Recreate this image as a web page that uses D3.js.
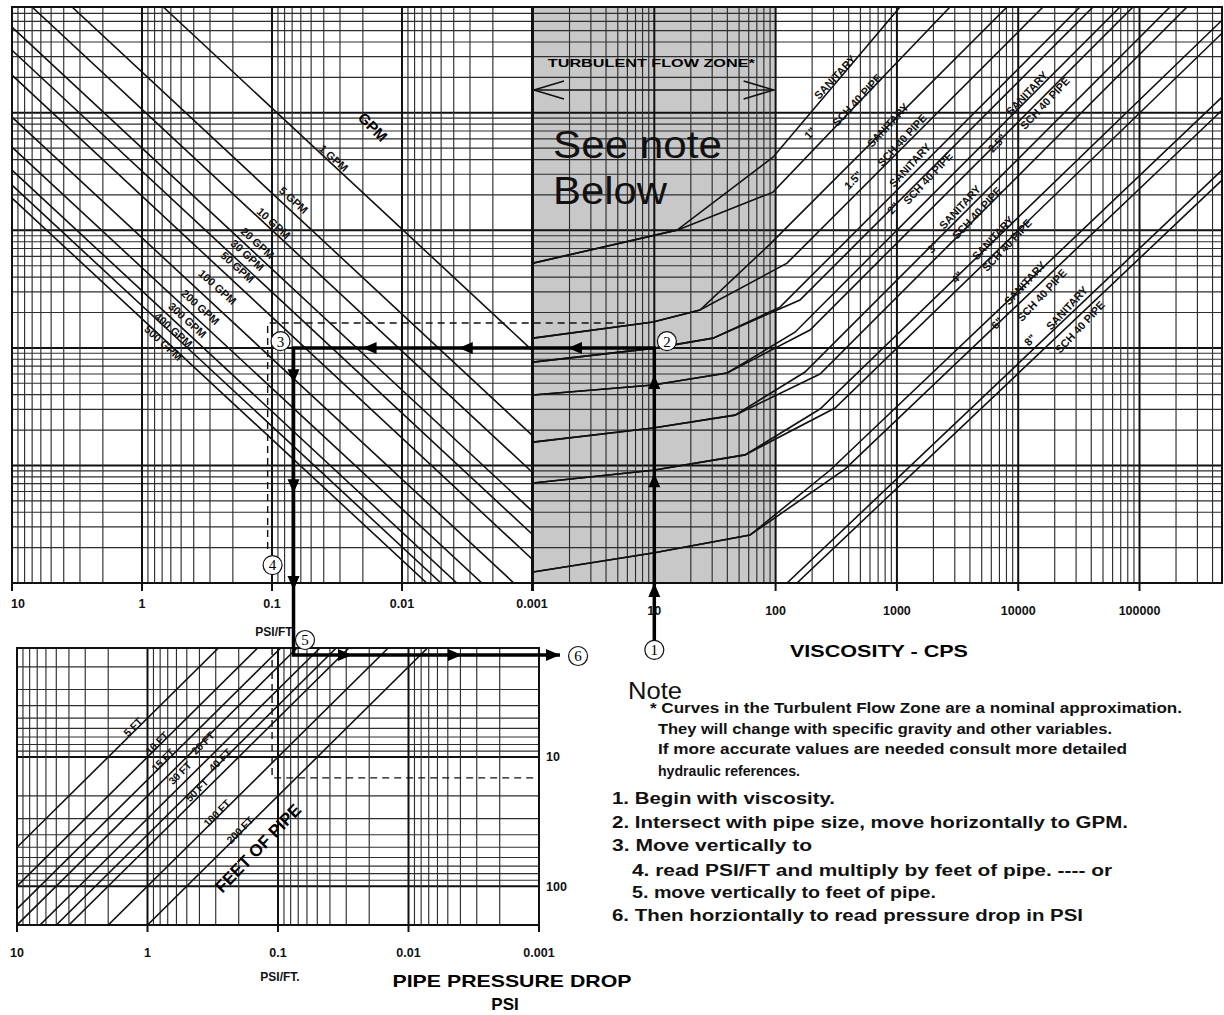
<!DOCTYPE html>
<html>
<head>
<meta charset="utf-8">
<script src="https://cdnjs.cloudflare.com/ajax/libs/d3/7.8.5/d3.min.js"></script>
<style>
  body { margin: 0; background: #fff; }
  svg { display: block; font-family: "Liberation Sans", Arial, sans-serif; }
  .grid-minor { stroke: #2e2e2e; stroke-width: 1.15; }
  .grid-major { stroke: #111; stroke-width: 2; }
  .frame { fill: none; stroke: #111; stroke-width: 2; }
  .curve { fill: none; stroke: #111; stroke-width: 1.6; }
  .tick-label { font-weight: bold; font-size: 12.5px; fill: #111; }
  .line-label { font-weight: bold; font-size: 11px; fill: #111; }
  .flow-path { fill: none; stroke: #000; stroke-width: 3.5; }
  .dashed { fill: none; stroke: #111; stroke-width: 1.4; stroke-dasharray: 7 5; }
  .note { font-weight: bold; fill: #111; }
</style>
</head>
<body>
<div id="chart"></div>
<script>
// ---- values ----
const psiTicks = [10, 1, 0.1, 0.01, 0.001];
const psiTickLabels = ["10", "1", "0.1", "0.01", "0.001"];
const cpsTicks = [10, 100, 1000, 10000, 100000];
const cpsTickLabels = ["10", "100", "1000", "10000", "100000"];
const psiDropTicks = [10, 100];
const psiDropTickLabels = ["10", "100"];

// GPM lines: [PSI/FT, flow index] at each end
const gpmLabels = ["1 GPM", "5 GPM", "10 GPM", "20 GPM", "30 GPM", "50 GPM", "100 GPM", "200 GPM", "300 GPM", "400 GPM", "500 GPM"];
const gpmStart = [[0.686, 79400], [3.45, 79400], [7.01, 79400], [10, 53460], [10, 34050], [10, 20890], [10, 9180], [10, 5100], [10, 3250], [10, 2423], [10, 1879]];
const gpmEnd = [[0.001, 95.8], [0.001, 18.1], [0.001, 8.79], [0.001, 4.1], [0.001, 2.61], [0.001, 1.6], [0.00138, 1], [0.00243, 1], [0.00379, 1], [0.00502, 1], [0.00645, 1]];
const gpmLabelAt = [[0.0336, 4110], [0.0683, 1806], [0.0973, 1151], [0.1294, 778], [0.1545, 615], [0.1845, 486], [0.263, 329], [0.356, 222], [0.448, 172], [0.574, 142], [0.686, 110]];

// pipe curves: [viscosity cps, flow index]
const pipeSizes = ['1"', '1.5"', '2"', '2.5"', '3"', '4"', '6"', '8"'];
const sanitaryCurves = [
  [[1, 526], [15.4, 1004], [95.2, 4190], [1061, 79400]],
  [[1, 121], [9.76, 166], [23.8, 210], [89.9, 763], [8085, 79400]],
  [[1, 75.7], [10.1, 99.6], [30.5, 121], [108.7, 222], [32320, 79400]],
  [[1, 39.7], [9.76, 48.3], [39.8, 61.1], [144.5, 136], [69070, 79400]],
  [[1, 15.8], [9.76, 20.8], [46.3, 26.8], [174.7, 62.3], [178400, 79400]],
  [[1, 7.09], [9.76, 9.1], [55.9, 12.3], [232.3, 30.2], [478600, 61240]],
  [[1, 1.24], [9.76, 1.8], [61.5, 2.56], [280.8, 9.1], [478600, 13590]],
  [[124.2, 1], [478600, 3250]]
];
const sch40Curves = [
  [[1, 526], [15.4, 1004], [95.2, 2113], [2740, 79400]],
  [[1, 121], [9.76, 166], [23.8, 210], [124.2, 526], [16015, 79400]],
  [[1, 75.7], [10.1, 99.6], [30.5, 121], [158.8, 255], [41370, 79400]],
  [[1, 39.7], [9.76, 48.3], [39.8, 61.1], [192.1, 142], [88420, 79400]],
  [[1, 15.8], [9.76, 20.8], [46.3, 26.8], [232.3, 59.9], [246400, 79400]],
  [[1, 7.09], [9.76, 9.1], [55.9, 12.3], [309, 30.8], [478600, 47500]],
  [[1, 1.24], [9.76, 1.8], [61.5, 2.56], [373.5, 9.3], [478600, 10510]],
  [[150, 1], [478600, 2670]]
];
const sizeLabelAt = [[192, 6710], [435, 2670], [929, 1545], [6690, 5510], [1984, 720], [3130, 400], [6686, 162.5], [12510, 116.5]];
const sanitaryLabelAt = [[309, 20080], [845, 7850], [1282, 3584], [11820, 14680], [3313, 1575], [6198, 859], [11380, 355.6], [25260, 218]];
const sch40LabelAt = [[469, 12800], [1102, 5848], [1805, 2780], [16630, 12070], [4574, 1401], [8085, 748], [15710, 281], [32320, 150.3]];

// feet of pipe lines: [PSI/FT, PSI] at each end
const feetLabels = ["5 FT", "10 FT", "15 FT", "20 FT", "30 FT", "40 FT", "50 FT", "100 FT", "200 FT"];
const feetStart = [[10, 50], [10, 100], [10, 150], [10, 200], [6.67, 200], [5, 200], [4, 200], [2, 200], [1, 200]];
const feetEnd = [[0.286, 1.43], [0.143, 1.43], [0.0953, 1.43], [0.0715, 1.43], [0.0477, 1.43], [0.0358, 1.43], [0.0286, 1.43], [0.0143, 1.43], [0.00715, 1.43]];
const feetLabelAt = [[1.291, 5.85], [0.846, 7.79], [0.761, 10.55], [0.376, 7.79], [0.5636, 13.3], [0.278, 10.55], [0.4174, 18.03], [0.2932, 27.2], [0.1954, 36.8]];

// worked example
const exampleCps = 10;
const exampleFlow = 100;
const examplePsiFt = 0.0683;
const examplePsi = 1.62;
const exampleEndPsiFt = 0.00069;
const readingFlow = 163;
const readingPsiFt = 0.108;
const readingLowPsiFt = 0.111;
const readingPsi = 14.5;

const noteLines = [
  "* Curves in the Turbulent Flow Zone are a nominal approximation.",
  "They will change with specific gravity and other variables.",
  "If more accurate values are needed consult more detailed",
  "hydraulic references."
];
const stepLines = [
  "1. Begin with viscosity.",
  "2. Intersect with pipe size, move horizontally to GPM.",
  "3. Move vertically to",
  "4. read PSI/FT and multiply by feet of pipe. ---- or",
  "5. move vertically to feet of pipe.",
  "6. Then horziontally to read pressure drop in PSI"
];

// ---- drawing ----
const svg = d3.select("#chart").append("svg")
  .attr("width", 1224)
  .attr("height", 1015);

const xPsi = d3.scaleLog().domain([10, 0.001]).range([12, 532]);
const xCps = d3.scaleLog().domain([1, 478600]).range([533, 1222]);
const yFlow = d3.scaleLog().domain([1, 79400]).range([583, 7]);
const xPsiLow = d3.scaleLog().domain([10, 0.001]).range([17, 539]);
const yPsiLow = d3.scaleLog().domain([1.43, 200]).range([648, 925]);

function logSteps(lo, hi) {
  const out = [];
  for (let e = Math.floor(Math.log10(lo)); e <= Math.ceil(Math.log10(hi)); e++) {
    for (let m = 1; m <= 9; m++) {
      const v = m * Math.pow(10, e);
      if (v >= lo * 0.999 && v <= hi * 1.001) out.push({ v: v, major: m === 1 });
    }
  }
  return out;
}

const defs = svg.append("defs");
defs.append("clipPath").attr("id", "clipLeft")
  .append("rect").attr("x", 12).attr("y", 7).attr("width", 520).attr("height", 576);
defs.append("clipPath").attr("id", "clipRight")
  .append("rect").attr("x", 533).attr("y", 7).attr("width", 689).attr("height", 576);
defs.append("clipPath").attr("id", "clipLow")
  .append("rect").attr("x", 17).attr("y", 648).attr("width", 522).attr("height", 277);

// turbulent zone shading
svg.append("rect")
  .attr("x", xCps(1))
  .attr("y", 7)
  .attr("width", xCps(100) - xCps(1))
  .attr("height", 576)
  .attr("fill", "#c8c8c8");

// upper grid
const gTop = svg.append("g");
gTop.selectAll(".hgrid").data(logSteps(1, 79400)).enter().append("line")
  .attr("class", d => d.major ? "grid-major" : "grid-minor")
  .attr("x1", 12).attr("x2", 1222)
  .attr("y1", d => yFlow(d.v)).attr("y2", d => yFlow(d.v));
gTop.selectAll(".vpsi").data(logSteps(0.001, 10)).enter().append("line")
  .attr("class", d => d.major ? "grid-major" : "grid-minor")
  .attr("x1", d => xPsi(d.v)).attr("x2", d => xPsi(d.v))
  .attr("y1", 7).attr("y2", d => d.major ? 591 : 583);
gTop.selectAll(".vcps").data(logSteps(1, 478600)).enter().append("line")
  .attr("class", d => d.major ? "grid-major" : "grid-minor")
  .attr("x1", d => xCps(d.v)).attr("x2", d => xCps(d.v))
  .attr("y1", 7).attr("y2", d => d.major ? 591 : 583);
svg.append("rect").attr("class", "frame")
  .attr("x", 12).attr("y", 7).attr("width", 1210).attr("height", 576);

// lower grid
const gLow = svg.append("g");
gLow.selectAll(".hlow").data(logSteps(1.43, 200)).enter().append("line")
  .attr("class", d => d.major ? "grid-major" : "grid-minor")
  .attr("x1", 17).attr("x2", 539)
  .attr("y1", d => yPsiLow(d.v)).attr("y2", d => yPsiLow(d.v));
gLow.selectAll(".vlow").data(logSteps(0.001, 10)).enter().append("line")
  .attr("class", d => d.major ? "grid-major" : "grid-minor")
  .attr("x1", d => xPsiLow(d.v)).attr("x2", d => xPsiLow(d.v))
  .attr("y1", 648).attr("y2", d => d.major ? 932 : 925);
svg.append("rect").attr("class", "frame")
  .attr("x", 17).attr("y", 648).attr("width", 522).attr("height", 277);

// GPM lines
const gpmLine = d3.line().x(d => xPsi(d[0])).y(d => yFlow(d[1]));
svg.append("g").attr("clip-path", "url(#clipLeft)")
  .selectAll("path").data(gpmLabels).enter().append("path")
  .attr("class", "curve")
  .attr("d", (d, i) => gpmLine([gpmStart[i], gpmEnd[i]]));
svg.append("g").selectAll("text").data(gpmLabels).enter().append("text")
  .attr("class", "line-label")
  .attr("text-anchor", "middle")
  .attr("transform", (d, i) => `translate(${xPsi(gpmLabelAt[i][0])},${yFlow(gpmLabelAt[i][1])}) rotate(42)`)
  .attr("dy", "0.35em")
  .text(d => d);
svg.append("text")
  .attr("transform", `translate(${xPsi(0.0168)},${yFlow(7550)}) rotate(45)`)
  .attr("text-anchor", "middle").attr("dy", "0.35em")
  .style("font-weight", "bold").style("font-size", "15px")
  .text("GPM");

// pipe curves
const pipeLine = d3.line().x(d => xCps(d[0])).y(d => yFlow(d[1]));
const gPipes = svg.append("g").attr("clip-path", "url(#clipRight)");
gPipes.selectAll(".san").data(sanitaryCurves).enter().append("path")
  .attr("class", "curve").attr("d", d => pipeLine(d));
gPipes.selectAll(".sch").data(sch40Curves).enter().append("path")
  .attr("class", "curve").attr("d", d => pipeLine(d));

const gPipeLabels = svg.append("g");
pipeSizes.forEach((size, i) => {
  const rows = [[sizeLabelAt[i], size], [sanitaryLabelAt[i], "SANITARY"], [sch40LabelAt[i], "SCH 40 PIPE"]];
  rows.forEach(r => {
    gPipeLabels.append("text")
      .attr("class", "line-label")
      .attr("text-anchor", "middle")
      .attr("dy", "0.35em")
      .attr("transform", `translate(${xCps(r[0][0])},${yFlow(r[0][1])}) rotate(-47)`)
      .text(r[1]);
  });
});

// feet of pipe lines
const feetLine = d3.line().x(d => xPsiLow(d[0])).y(d => yPsiLow(d[1]));
svg.append("g").attr("clip-path", "url(#clipLow)")
  .selectAll("path").data(feetLabels).enter().append("path")
  .attr("class", "curve")
  .attr("d", (d, i) => feetLine([feetStart[i], feetEnd[i]]));
svg.append("g").selectAll("text").data(feetLabels).enter().append("text")
  .attr("class", "line-label")
  .style("font-size", "10.5px")
  .attr("text-anchor", "middle").attr("dy", "0.35em")
  .attr("transform", (d, i) => `translate(${xPsiLow(feetLabelAt[i][0])},${yPsiLow(feetLabelAt[i][1])}) rotate(-45)`)
  .text(d => d);
svg.append("text")
  .attr("transform", `translate(${xPsiLow(0.1423)},${yPsiLow(50.7)}) rotate(-46)`)
  .attr("text-anchor", "middle").attr("dy", "0.35em")
  .style("font-weight", "bold").style("font-size", "17px")
  .text("FEET OF PIPE");

// tick labels
svg.append("g").selectAll("text").data(psiTicks).enter().append("text")
  .attr("class", "tick-label").attr("text-anchor", "middle")
  .attr("x", (d, i) => i === 0 ? xPsi(d) + 6 : xPsi(d)).attr("y", 608)
  .text((d, i) => psiTickLabels[i]);
svg.append("g").selectAll("text").data(cpsTicks).enter().append("text")
  .attr("class", "tick-label").attr("text-anchor", "middle")
  .attr("x", d => xCps(d)).attr("y", 615)
  .text((d, i) => cpsTickLabels[i]);
svg.append("g").selectAll("text").data(psiTicks).enter().append("text")
  .attr("class", "tick-label").attr("text-anchor", "middle")
  .attr("x", d => xPsiLow(d)).attr("y", 957)
  .text((d, i) => psiTickLabels[i]);
svg.append("g").selectAll("text").data(psiDropTicks).enter().append("text")
  .attr("class", "tick-label").attr("text-anchor", "start")
  .attr("x", 546).attr("y", d => yPsiLow(d)).attr("dy", "0.35em")
  .text((d, i) => psiDropTickLabels[i]);

svg.append("text").attr("class", "tick-label").attr("text-anchor", "middle")
  .attr("x", xPsi(0.1) + 2).attr("y", 636).style("font-size", "12px")
  .text("PSI/FT");
svg.append("text").attr("class", "tick-label").attr("text-anchor", "middle")
  .attr("x", xPsiLow(0.1) + 2).attr("y", 981).style("font-size", "12px")
  .text("PSI/FT.");

svg.append("text").attr("x", 879).attr("y", 657).attr("text-anchor", "middle")
  .style("font-weight", "bold").style("font-size", "17px")
  .attr("textLength", 178).attr("lengthAdjust", "spacingAndGlyphs")
  .text("VISCOSITY - CPS");
svg.append("text").attr("x", 512).attr("y", 987).attr("text-anchor", "middle")
  .style("font-weight", "bold").style("font-size", "17px")
  .attr("textLength", 239).attr("lengthAdjust", "spacingAndGlyphs")
  .text("PIPE PRESSURE DROP");
svg.append("text").attr("x", 505).attr("y", 1010).attr("text-anchor", "middle")
  .style("font-weight", "bold").style("font-size", "17px")
  .text("PSI");

// turbulent zone caption
const zoneMid = (xCps(1) + xCps(100)) / 2;
svg.append("text").attr("x", zoneMid - 3).attr("y", 67).attr("text-anchor", "middle")
  .style("font-weight", "bold").style("font-size", "11.5px")
  .attr("textLength", 207).attr("lengthAdjust", "spacingAndGlyphs")
  .text("TURBULENT FLOW ZONE*");
const zArrow = svg.append("g").attr("stroke", "#111").attr("stroke-width", 1.6).attr("fill", "none");
zArrow.append("line").attr("x1", xCps(1) + 1).attr("x2", xCps(100) - 2).attr("y1", 90).attr("y2", 90);
zArrow.append("path").attr("d", `M${xCps(1) + 31},81 L${xCps(1) + 1},90 L${xCps(1) + 31},99`);
zArrow.append("path").attr("d", `M${xCps(100) - 32},81 L${xCps(100) - 2},90 L${xCps(100) - 32},99`);

svg.append("text").attr("x", 553).attr("y", 158)
  .style("font-size", "38px").style("fill", "#111")
  .attr("textLength", 169).attr("lengthAdjust", "spacingAndGlyphs")
  .text("See note");
svg.append("text").attr("x", 553).attr("y", 204)
  .style("font-size", "38px").style("fill", "#111")
  .attr("textLength", 114).attr("lengthAdjust", "spacingAndGlyphs")
  .text("Below");

// worked example path
const px = xPsi(examplePsiFt);
const pathPts = [
  [xCps(exampleCps), yFlow(0.32)],
  [xCps(exampleCps), yFlow(exampleFlow)],
  [px, yFlow(exampleFlow)],
  [px, yPsiLow(examplePsi)],
  [xPsiLow(exampleEndPsiFt), yPsiLow(examplePsi)]
];
svg.append("path").attr("class", "flow-path").attr("d", d3.line()(pathPts));

function arrowHead(x, y, dir) {
  const L = 14, w = 6;
  let p;
  if (dir === "up") p = [[x, y], [x - w, y + L], [x + w, y + L]];
  if (dir === "down") p = [[x, y], [x - w, y - L], [x + w, y - L]];
  if (dir === "left") p = [[x, y], [x + L, y - w], [x + L, y + w]];
  if (dir === "right") p = [[x, y], [x - L, y - w], [x - L, y + w]];
  svg.append("path").attr("d", "M" + p.join("L") + "Z").attr("fill", "#000");
}
[1, 8.6, 58.7].forEach(v => arrowHead(xCps(exampleCps), yFlow(v), "up"));
arrowHead(xCps(1.94), yFlow(exampleFlow), "left");
[0.00366, 0.0201].forEach(v => arrowHead(xPsi(v), yFlow(exampleFlow), "left"));
[50, 5.8, 0.87].forEach(v => arrowHead(px, yFlow(v), "down"));
[0.0271, 0.00389, 0.00069].forEach(v => arrowHead(xPsiLow(v), yPsiLow(examplePsi), "right"));

// dashed reading lines
svg.append("path").attr("class", "dashed")
  .attr("d", d3.line()([[xCps(5.7), yFlow(readingFlow)], [xPsi(readingPsiFt), yFlow(readingFlow)], [xPsi(readingPsiFt), yFlow(1.8)]]));
svg.append("path").attr("class", "dashed")
  .attr("d", d3.line()([[xPsiLow(readingLowPsiFt), yPsiLow(1.43)], [xPsiLow(readingLowPsiFt), yPsiLow(readingPsi)], [xPsiLow(0.001), yPsiLow(readingPsi)]]));

// circled step numbers
const marks = [
  ["1", xCps(10), yFlow(0.27)],
  ["2", xCps(12.7), yFlow(114)],
  ["3", xPsi(0.086), yFlow(114)],
  ["4", xPsi(0.099), yFlow(1.42)],
  ["5", xPsiLow(0.0621), yPsiLow(1.24)],
  ["6", xPsiLow(0.000502), yPsiLow(1.65)]
];
const gMarks = svg.append("g");
marks.forEach(m => {
  gMarks.append("circle").attr("cx", m[1]).attr("cy", m[2]).attr("r", 9.5)
    .attr("fill", "#fff").attr("stroke", "#111").attr("stroke-width", 1.2);
  gMarks.append("text").attr("x", m[1]).attr("y", m[2]).attr("dy", "0.36em")
    .attr("text-anchor", "middle")
    .style("font-family", "'Liberation Serif', 'DejaVu Serif', serif").style("font-size", "15px")
    .text(m[0]);
});

// note block
svg.append("text").attr("x", 628).attr("y", 699)
  .style("font-size", "24px").style("fill", "#111")
  .attr("textLength", 54).attr("lengthAdjust", "spacingAndGlyphs")
  .text("Note");
const noteX = [650, 658, 658, 658];
const noteLen = [532, 454, 469, 142];
const noteY = [713, 734, 754, 776];
noteLines.forEach((t, i) => {
  svg.append("text").attr("class", "note")
    .attr("x", noteX[i]).attr("y", noteY[i])
    .style("font-size", "14px")
    .attr("textLength", noteLen[i]).attr("lengthAdjust", "spacingAndGlyphs")
    .text(t);
});
const stepX = [612, 612, 612, 632, 632, 612];
const stepLen = [223, 516, 200, 480, 304, 471];
const stepY = [804, 828, 851, 876, 898, 921];
stepLines.forEach((t, i) => {
  svg.append("text").attr("class", "note")
    .attr("x", stepX[i]).attr("y", stepY[i])
    .style("font-size", "16px")
    .attr("textLength", stepLen[i]).attr("lengthAdjust", "spacingAndGlyphs")
    .text(t);
});
</script>
</body>
</html>
